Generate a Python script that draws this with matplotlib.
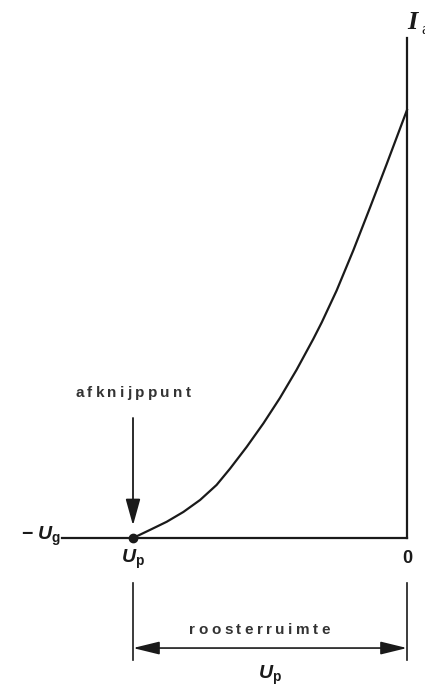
import numpy as np
import matplotlib
matplotlib.use("Agg")
import matplotlib.pyplot as plt
from matplotlib.transforms import ScaledTranslation

# Ia(Ug) curve, Ug relative to Up (-1 .. 0), Ia normalised
ug = [-1.0, -0.938, -0.877, -0.816, -0.755, -0.695, -0.646, -0.585, -0.524,
      -0.464, -0.403, -0.342, -0.311, -0.257, -0.196, -0.135, -0.074, 0.0]
ia = [0.0, 0.019, 0.038, 0.061, 0.089, 0.124, 0.162, 0.213, 0.268,
      0.327, 0.393, 0.465, 0.504, 0.578, 0.672, 0.772, 0.874, 1.0]
up = -1.0

plt.rcParams['mathtext.fontset'] = 'custom'
plt.rcParams['mathtext.it'] = 'Liberation Sans:bold:italic'
plt.rcParams['mathtext.rm'] = 'Liberation Sans:bold'
plt.rcParams['mathtext.bf'] = 'Liberation Sans:bold'

ink = '#1a1a1a'
fig = plt.figure(figsize=(4.25, 6.84), dpi=100)
ax = fig.add_axes([0, 0, 1, 1])
ax.set_xlim(-1.4854, 0.0657)
ax.set_ylim(-0.341, 1.257)
ax.axis('off')


def tracked(x, y, s, size, track_px, **kw):
    # word with wide letter spacing, like the old typeset labels
    r = fig.canvas.get_renderer()
    parts = [ax.text(x, y, ch, fontsize=size, ha='left', va='center', **kw) for ch in s]
    widths = [t.get_window_extent(r).width for t in parts]
    total = sum(widths) + track_px * (len(s) - 1)
    off = -total / 2
    for t, w in zip(parts, widths):
        t.set_transform(ax.transData + ScaledTranslation(off / fig.dpi, 0, fig.dpi_scale_trans))
        off += w + track_px


# axes
ax.plot([-1.259, 0], [0, 0], color=ink, lw=1.6)
ax.plot([0, 0], [0, 1.168], color=ink, lw=1.6)

# characteristic
ax.plot(ug, ia, color=ink, lw=1.6, solid_joinstyle='round')
ax.plot([up], [0], 'o', color=ink, ms=6)

# labels on axes
ax.text(0.002, 1.205, 'I', fontsize=19, family='Liberation Serif',
        ha='left', va='center', color=ink, style='italic', weight='bold')
ax.text(0.052, 1.188, 'a', fontsize=12, family='Liberation Serif',
        ha='left', va='center', color=ink)
ax.text(-1.265, 0.004, r'$-\;U_{\mathrm{g}}$', fontsize=14, ha='right', va='center', color=ink)
ax.text(up, -0.05, r'$U_{\mathrm{p}}$', fontsize=14, ha='center', va='center', color=ink)
ax.text(0, -0.047, '0', fontsize=13, family='Liberation Sans', weight='bold',
        ha='center', va='center', color=ink)

# pinch-off annotation
tracked(up, 0.339, 'afknijppunt', 11, 3.2, family='Liberation Sans', weight='bold',
        color='#333333')
ax.annotate('', xy=(up, 0.023), xytext=(up, 0.287),
            arrowprops=dict(arrowstyle='-|>,head_length=0.9,head_width=0.25',
                            color=ink, lw=1.3, mutation_scale=18))

# grid space dimension
ax.plot([up, up], [-0.105, -0.285], color=ink, lw=1.2)
ax.plot([0, 0], [-0.105, -0.285], color=ink, lw=1.2)
ax.annotate('', xy=(up, -0.257), xytext=(0, -0.257),
            arrowprops=dict(arrowstyle='<|-|>,head_length=0.9,head_width=0.22',
                            color=ink, lw=1.2, mutation_scale=18, shrinkA=0, shrinkB=0))
tracked(-0.538, -0.215, 'roosterruimte', 11, 3.5, family='Liberation Sans', weight='bold',
        color='#333333')
ax.text(up / 2, -0.322, r'$U_{\mathrm{p}}$', fontsize=14, ha='center', va='center', color=ink)

fig.savefig('out.png', dpi=100)
